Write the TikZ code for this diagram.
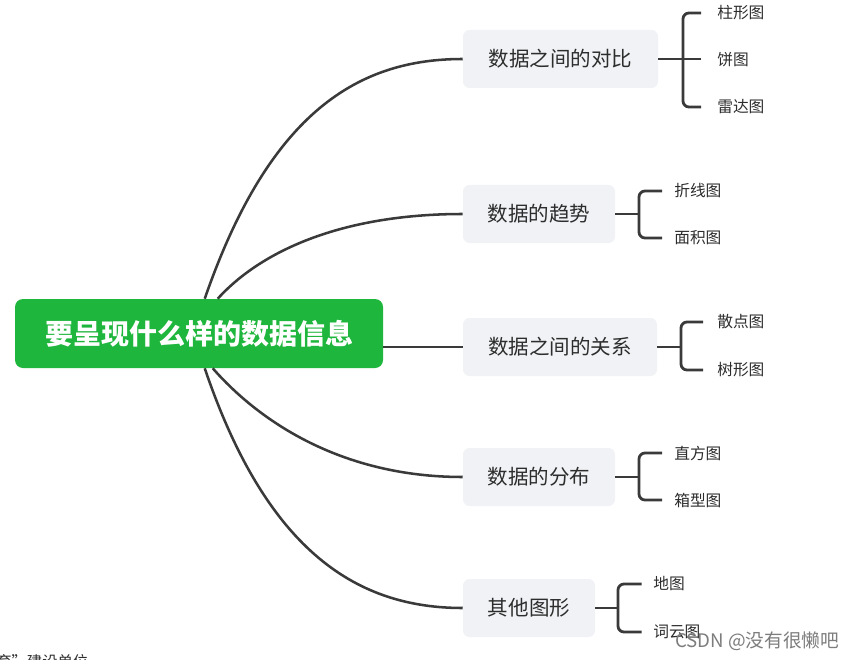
\documentclass[tikz,border=0pt]{standalone}
\usepackage{fontspec}
\setmainfont{Noto Sans CJK SC}
\newfontfamily\cjk{Noto Sans CJK SC}
\usetikzlibrary{positioning}
\definecolor{mmgreen}{RGB}{30,182,60}
\definecolor{mmgray}{RGB}{240,242,245}
\definecolor{mmline}{RGB}{58,58,58}
\definecolor{mmtext}{RGB}{45,45,45}
\definecolor{wmark}{RGB}{125,125,125}
\tikzset{
  rootbox/.style={fill=mmgreen, rounded corners=6pt, text=white, font=\cjk\bfseries\fontsize{21}{25}\selectfont, minimum width=276pt, minimum height=51.75pt, inner sep=0pt},
  branchbox/.style={fill=mmgray, rounded corners=5pt, text=mmtext, font=\cjk\fontsize{15.4}{18}\selectfont, minimum height=43.5pt, inner sep=0pt},
  leaftext/.style={anchor=west, inner sep=0pt, text=mmtext, font=\cjk\fontsize{11.8}{14}\selectfont},
  curveline/.style={draw=mmline, line width=1.9pt},
  bracketline/.style={draw=mmline, line width=2.1pt, rounded corners=4.5pt}
}
\begin{document}
\begin{tikzpicture}[x=0.75pt,y=-0.75pt]
\useasboundingbox (0,0) rectangle (862,659);
\clip (0,0) rectangle (862,659);
\fill[white] (0,0) rectangle (862,659);

% root
\node[rootbox] (c) at (199,333.5) {要呈现什么样的数据信息};

% branches
\node[branchbox, minimum width=146.25pt] (b1) at (560.5,59) {数据之间的对比};
\node[branchbox, minimum width=114pt] (b2) at (539,214) {数据的趋势};
\node[branchbox, minimum width=145.5pt] (b3) at (560,347) {数据之间的关系};
\node[branchbox, minimum width=114pt] (b4) at (539,477) {数据的分布};
\node[branchbox, minimum width=99pt] (b5) at (529,608) {其他图形};

% curves from root
\draw[curveline] ([xshift=142.5pt]c.north west) .. controls (270,110) and (360,59) .. (b1.west);
\draw[curveline] ([xshift=152.25pt]c.north west) .. controls (260,252) and (340,214) .. (b2.west);
\draw[curveline] (c.east |- b3.west) -- (b3.west);
\draw[curveline] ([xshift=148.5pt]c.south west) .. controls (258,420) and (340,477) .. (b4.west);
\draw[curveline] ([xshift=142.5pt]c.south west) .. controls (268,555) and (360,608) .. (b5.west);

% leaves branch 1
\node[leaftext] (l11) at (717,13) {柱形图};
\node[leaftext] (l12) at (717,60) {饼图};
\node[leaftext] (l13) at (717,107) {雷达图};
\coordinate (j1) at (683,59);
\draw[bracketline] (b1.east) -- (j1);
\draw[bracketline] ([xshift=-12pt]l11.west) -| (j1) |- ([xshift=-12pt]l13.west);
\draw[bracketline] (j1) -- ([xshift=-12pt]l12.west |- j1);

% leaves branch 2
\node[leaftext] (l21) at (674,191) {折线图};
\node[leaftext] (l22) at (674,238) {面积图};
\coordinate (j2) at (639,214);
\draw[bracketline] (b2.east) -- (j2);
\draw[bracketline] ([xshift=-9pt]l21.west) -| (j2) |- ([xshift=-9pt]l22.west);

% leaves branch 3
\node[leaftext] (l31) at (717,322) {散点图};
\node[leaftext] (l32) at (717,370) {树形图};
\coordinate (j3) at (681,347);
\draw[bracketline] (b3.east) -- (j3);
\draw[bracketline] ([xshift=-10.5pt]l31.west) -| (j3) |- ([xshift=-10.5pt]l32.west);

% leaves branch 4
\node[leaftext] (l41) at (674,453) {直方图};
\node[leaftext] (l42) at (674,500) {箱型图};
\coordinate (j4) at (639,477);
\draw[bracketline] (b4.east) -- (j4);
\draw[bracketline] ([xshift=-9pt]l41.west) -| (j4) |- ([xshift=-9pt]l42.west);

% leaves branch 5
\node[leaftext] (l51) at (653,584) {地图};
\node[leaftext] (l52) at (653,632) {词云图};
\coordinate (j5) at (618,608);
\draw[bracketline] (b5.east) -- (j5);
\draw[bracketline] ([xshift=-8.5pt]l51.west) -| (j5) |- ([xshift=-8.5pt]l52.west);

% watermark and cut-off caption
\node[anchor=west, inner sep=0pt, text=wmark, font=\cjk\fontsize{14}{16}\selectfont] (wm) at (675,641) {CSDN @没有很懒吧};
\node[anchor=west, inner sep=0pt, text=mmtext, font=\cjk\fontsize{11.5}{14}\selectfont] (cap) at (-4,662) {育”建设单位};
\end{tikzpicture}
\end{document}
